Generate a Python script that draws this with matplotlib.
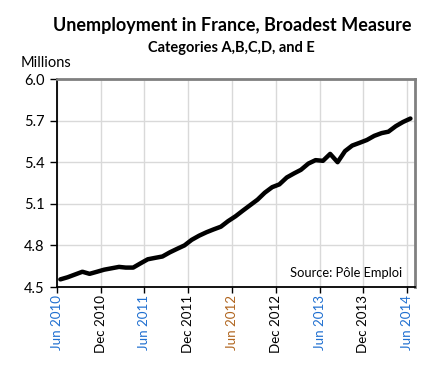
import numpy as np
import pandas as pd
import matplotlib
matplotlib.use('Agg')
import matplotlib.pyplot as plt

plt.rcParams['font.family'] = ['Lato', 'DejaVu Sans']

# Données mensuelles (millions), juin 2010 - juin 2014
meses = pd.date_range('2010-06-01', periods=49, freq='MS') + pd.Timedelta(days=14)
valores = [4.555, 4.57, 4.59, 4.61, 4.595, 4.61, 4.625, 4.635, 4.645, 4.64,
           4.64, 4.67, 4.70, 4.71, 4.72, 4.75, 4.775, 4.80, 4.84, 4.87,
           4.895, 4.915, 4.935, 4.975, 5.01, 5.05, 5.09, 5.13, 5.18, 5.22,
           5.24, 5.29, 5.32, 5.345, 5.39, 5.415, 5.41, 5.46, 5.40, 5.48,
           5.52, 5.54, 5.56, 5.59, 5.61, 5.62, 5.66, 5.69, 5.715]

rotulos_x = ['Jun 2010', 'Dec 2010', 'Jun 2011', 'Dec 2011', 'Jun 2012',
             'Dec 2012', 'Jun 2013', 'Dec 2013', 'Jun 2014']
cores_x = ['#1f6fd0', 'black', '#1f6fd0', 'black', '#b0651e',
           'black', '#1f6fd0', 'black', '#1f6fd0']
ticks_y = [4.5, 4.8, 5.1, 5.4, 5.7, 6.0]

fig = plt.figure(figsize=(4.36, 3.68), dpi=100)
ax = fig.add_axes([0.1307, 0.2201, 0.8211, 0.5652])

ax.plot(meses, valores, color='black', linewidth=3.2, solid_capstyle='round')

pos_x = pd.date_range('2010-06-01', periods=9, freq='6MS')
ax.set_xticks(pos_x)
ax.set_xticklabels(rotulos_x, rotation=90, fontsize=9.6)
for lbl, c in zip(ax.get_xticklabels(), cores_x):
    lbl.set_color(c)
ax.set_xlim(pd.Timestamp('2010-06-01'), pd.Timestamp('2014-07-04'))

ax.set_yticks(ticks_y)
ax.set_yticklabels([f'{v:.1f}' for v in ticks_y], fontsize=10.5)
ax.set_ylim(4.5, 6.0)

ax.grid(True, color='#d9d9d9', linewidth=1)
ax.set_axisbelow(True)
ax.tick_params(axis='x', direction='out', length=4, width=1, pad=2)
ax.tick_params(axis='y', direction='out', length=5, width=1, pad=4)

ax.spines['left'].set_color('black')
ax.spines['bottom'].set_color('black')
ax.spines['left'].set_linewidth(1.3)
ax.spines['bottom'].set_linewidth(1.3)
ax.spines['top'].set_color('#808080')
ax.spines['right'].set_color('#808080')
ax.spines['top'].set_linewidth(2)
ax.spines['right'].set_linewidth(2)

fig.text(0.532, 0.932, 'Unemployment in France, Broadest Measure',
         ha='center', va='center', fontsize=13, fontweight='bold')
fig.text(0.530, 0.869, 'Categories A,B,C,D, and E',
         ha='center', va='center', fontsize=10.5, fontweight='bold')
fig.text(0.048, 0.829, 'Millions', ha='left', va='center', fontsize=10.5)
ax.text(0.965, 0.065, 'Source: Pôle Emploi', transform=ax.transAxes,
        ha='right', va='center', fontsize=9.3)

fig.savefig('out.png', dpi=100)
